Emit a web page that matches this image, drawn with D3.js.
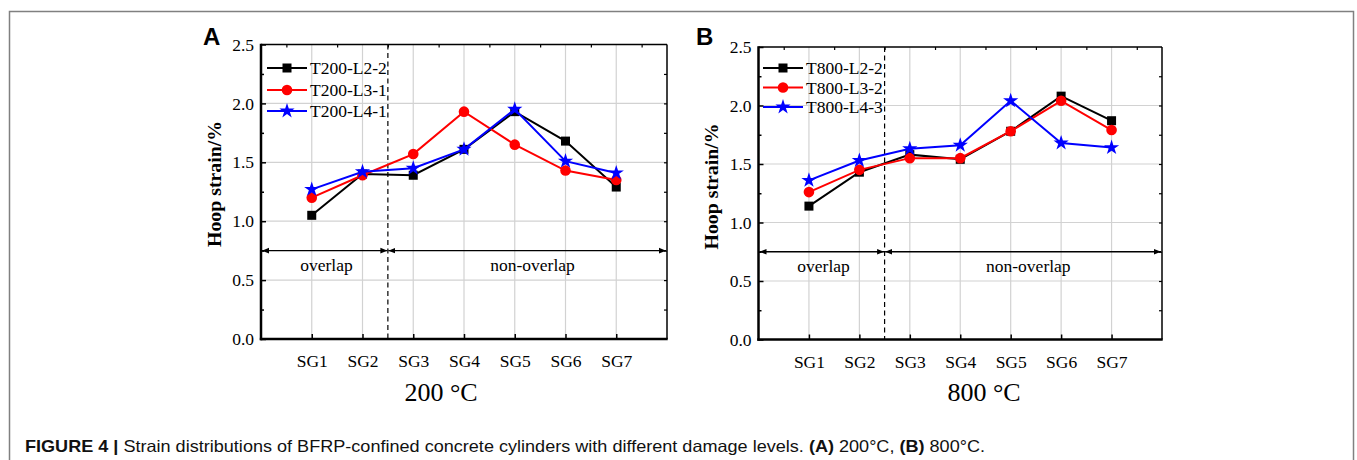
<!DOCTYPE html>
<html><head><meta charset="utf-8">
<script src="https://cdn.jsdelivr.net/npm/d3@7"></script>
<style>
html,body{margin:0;padding:0;background:#fff;}
svg{display:block;}
</style></head>
<body>
<svg id="c" width="1357" height="460"></svg>
<script>
// ---- data ----
const categories = ["SG1","SG2","SG3","SG4","SG5","SG6","SG7"];
const yTickValues = [0, 0.5, 1.0, 1.5, 2.0, 2.5];
const seriesNamesA = ["T200-L2-2","T200-L3-1","T200-L4-1"];
const seriesNamesB = ["T800-L2-2","T800-L3-2","T800-L4-3"];
const A_L2 = [1.05, 1.40, 1.39, 1.61, 1.93, 1.68, 1.29];
const A_L3 = [1.20, 1.39, 1.57, 1.93, 1.65, 1.43, 1.35];
const A_L4 = [1.27, 1.42, 1.45, 1.61, 1.95, 1.51, 1.41];
const B_L2 = [1.14, 1.43, 1.58, 1.54, 1.78, 2.08, 1.87];
const B_L3 = [1.26, 1.45, 1.55, 1.55, 1.78, 2.04, 1.79];
const B_L4 = [1.36, 1.53, 1.63, 1.66, 2.04, 1.68, 1.64];
const regionLabels = ["overlap","non-overlap"];
const boundaryPos = 2.5;   // between SG2 and SG3
const arrowLevel = 0.75;
const seriesColors = ["#000000","#ff0000","#0000ff"];
const seriesShapes = ["square","circle","star"];

const svg = d3.select("#c");
const SERIF = "'Liberation Serif','Times New Roman',serif";
const SANS = "'Liberation Sans',Arial,sans-serif";

// figure frame
svg.append("rect").attr("x",9.5).attr("y",11.5).attr("width",1344).attr("height",470)
  .attr("fill","none").attr("stroke","#808080").attr("stroke-width",1.5);

const defs = svg.append("defs");
function marker(id, orient){
  defs.append("marker").attr("id",id).attr("viewBox","0 0 10 10").attr("refX",10).attr("refY",5)
    .attr("markerWidth",7).attr("markerHeight",7).attr("markerUnits","userSpaceOnUse").attr("orient",orient)
    .append("path").attr("d","M0,1 L10,5 L0,9 Z").attr("fill","#000");
}
marker("arrEnd","auto");
marker("arrStart","auto-start-reverse");

const starPath = d3.symbol().type(d3.symbolStar).size(72);
function drawMarker(g, shape, color, cx, cy){
  if(shape==="square"){
    g.append("rect").attr("x",cx-4.5).attr("y",cy-4.5).attr("width",9).attr("height",9).attr("fill",color);
  } else if(shape==="circle"){
    g.append("circle").attr("cx",cx).attr("cy",cy).attr("r",5.3).attr("fill",color);
  } else {
    g.append("path").attr("d",starPath()).attr("transform",`translate(${cx},${cy})`).attr("fill",color);
  }
}

function drawPanel(cfg){
  const x = d3.scaleLinear().domain([0,8]).range([cfg.left,cfg.right]);
  const y = d3.scaleLinear().domain([0,2.5]).range([cfg.bottom,cfg.top]);
  const g = svg.append("g");

  // grid
  g.append("g").selectAll("line").data(yTickValues.slice(1,-1)).join("line")
    .attr("x1",cfg.left).attr("x2",cfg.right).attr("y1",d=>y(d)).attr("y2",d=>y(d))
    .attr("stroke","#d2d2d2").attr("stroke-width",1.2);
  g.append("g").selectAll("line").data(d3.range(1,8)).join("line")
    .attr("x1",d=>x(d)).attr("x2",d=>x(d)).attr("y1",cfg.top).attr("y2",cfg.bottom)
    .attr("stroke","#d2d2d2").attr("stroke-width",1.2);

  // dashed boundary
  g.append("line").attr("x1",x(boundaryPos)).attr("x2",x(boundaryPos)).attr("y1",cfg.top).attr("y2",cfg.bottom)
    .attr("stroke","#000").attr("stroke-width",1.2).attr("stroke-dasharray","5,3.5");

  // arrows
  g.append("line").attr("x1",x(0)+1).attr("x2",x(boundaryPos)-0.5).attr("y1",y(arrowLevel)).attr("y2",y(arrowLevel))
    .attr("stroke","#000").attr("stroke-width",1.3).attr("marker-start","url(#arrStart)").attr("marker-end","url(#arrEnd)");
  g.append("line").attr("x1",x(boundaryPos)+0.5).attr("x2",x(8)-1).attr("y1",y(arrowLevel)).attr("y2",y(arrowLevel))
    .attr("stroke","#000").attr("stroke-width",1.3).attr("marker-start","url(#arrStart)").attr("marker-end","url(#arrEnd)");
  g.append("text").attr("x",x(1.25)+2).attr("y",y(0.63)+6).attr("text-anchor","middle")
    .attr("font-family",SERIF).attr("font-size",17.5).text(regionLabels[0]);
  g.append("text").attr("x",x(5.35)).attr("y",y(0.63)+6).attr("text-anchor","middle")
    .attr("font-family",SERIF).attr("font-size",17.5).text(regionLabels[1]);

  // series
  const line = d3.line().x((d,i)=>x(i+1)).y(d=>y(d));
  cfg.series.forEach((s,si)=>{
    g.append("path").attr("d",line(s)).attr("fill","none").attr("stroke",seriesColors[si]).attr("stroke-width",2);
    const mg = g.append("g");
    s.forEach((v,i)=>drawMarker(mg, seriesShapes[si], seriesColors[si], x(i+1), y(v)));
  });

  // axes
  const fmt = d3.format(".1f");
  const ax = g.append("g").attr("transform",`translate(${cfg.left},0)`)
    .call(d3.axisLeft(y).tickValues(yTickValues).tickSize(-5).tickPadding(7).tickFormat(fmt));
  ax.select(".domain").remove();
  ax.selectAll("line").attr("stroke","#000").attr("stroke-width",1.5);
  ax.selectAll("text").attr("font-family",SERIF).attr("font-size",17.5).attr("fill","#000");
  const axm = g.append("g").attr("transform",`translate(${cfg.left},0)`)
    .call(d3.axisLeft(y).tickValues([0.25,0.75,1.25,1.75,2.25]).tickSize(-3).tickFormat(""));
  axm.select(".domain").remove();
  axm.selectAll("line").attr("stroke","#000").attr("stroke-width",1.5);

  const axr = g.append("g").attr("transform",`translate(${cfg.right},0)`)
    .call(d3.axisRight(y).tickValues([0.25,0.5,0.75,1,1.25,1.5,1.75,2,2.25]).tickSize(-3).tickFormat(""));
  axr.select(".domain").remove();
  axr.selectAll("line").attr("stroke","#000").attr("stroke-width",1.2);

  const bx = g.append("g").attr("transform",`translate(0,${cfg.bottom})`)
    .call(d3.axisBottom(x).tickValues(d3.range(1,8)).tickSize(-5).tickPadding(16).tickFormat(d=>categories[d-1]));
  bx.select(".domain").remove();
  bx.selectAll("line").attr("stroke","#000").attr("stroke-width",1.5);
  bx.selectAll("text").attr("font-family",SERIF).attr("font-size",17.5).attr("fill","#000");

  const tx = g.append("g").attr("transform",`translate(0,${cfg.top})`)
    .call(d3.axisTop(x).tickValues([0.5,1.5,2.5,3.5,4.5,5.5,6.5,7.5]).tickSize(-3).tickFormat(""));
  tx.select(".domain").remove();
  tx.selectAll("line").attr("stroke","#000").attr("stroke-width",1.2);

  // frame
  g.append("line").attr("x1",cfg.left).attr("x2",cfg.right).attr("y1",cfg.top).attr("y2",cfg.top).attr("stroke","#000").attr("stroke-width",1.5);
  g.append("line").attr("x1",cfg.right).attr("x2",cfg.right).attr("y1",cfg.top).attr("y2",cfg.bottom).attr("stroke","#000").attr("stroke-width",1.5);
  g.append("line").attr("x1",cfg.left).attr("x2",cfg.left).attr("y1",cfg.top-0.7).attr("y2",cfg.bottom+1.2).attr("stroke","#000").attr("stroke-width",2.5);
  g.append("line").attr("x1",cfg.left-1.2).attr("x2",cfg.right+0.7).attr("y1",cfg.bottom).attr("y2",cfg.bottom).attr("stroke","#000").attr("stroke-width",2.5);

  // y label
  g.append("text").attr("transform",`translate(${cfg.ylabX},${cfg.ylabY}) rotate(-90)`)
    .attr("text-anchor","middle").attr("font-family",SERIF).attr("font-weight","bold").attr("font-size",19)
    .attr("textLength",126).attr("lengthAdjust","spacingAndGlyphs")
    .text("Hoop strain/%");

  // x title
  g.append("text").attr("x",cfg.titleX).attr("y",401).attr("text-anchor","middle")
    .attr("font-family",SERIF).attr("font-size",26).text(cfg.title);

  // panel letter
  g.append("text").attr("x",cfg.letterX).attr("y",45).attr("font-family",SANS).attr("font-weight","bold")
    .attr("font-size",24).text(cfg.letter);

  // legend
  cfg.names.forEach((n,i)=>{
    const ly = cfg.legY[i];
    g.append("line").attr("x1",cfg.legX).attr("x2",cfg.legX+40).attr("y1",ly).attr("y2",ly)
      .attr("stroke",seriesColors[i]).attr("stroke-width",2);
    drawMarker(g, seriesShapes[i], seriesColors[i], cfg.legX+20, ly);
    g.append("text").attr("x",cfg.legX+43).attr("y",ly+6).attr("font-family",SERIF).attr("font-size",17.5).text(n);
  });
}

drawPanel({left:261, right:667, top:44.5, bottom:339, series:[A_L2,A_L3,A_L4], names:seriesNamesA,
  legX:267, legY:[68,90,111], ylabX:221, ylabY:184, title:"200 °C", titleX:441, letter:"A", letterX:203});
drawPanel({left:758.5, right:1162, top:47, bottom:339.5, series:[B_L2,B_L3,B_L4], names:seriesNamesB,
  legX:763, legY:[68,87.5,107], ylabX:718, ylabY:186.5, title:"800 °C", titleX:984, letter:"B", letterX:696});

// caption
const cap = svg.append("text").attr("x",25).attr("y",451.5).attr("font-family",SANS).attr("font-size",16.5).attr("fill","#111");
cap.append("tspan").attr("font-weight","bold").text("FIGURE 4 | ");
cap.append("tspan").text("Strain distributions of BFRP-confined concrete cylinders with different damage levels. ");
cap.append("tspan").attr("font-weight","bold").text("(A)");
cap.append("tspan").text(" 200°C, ");
cap.append("tspan").attr("font-weight","bold").text("(B)");
cap.append("tspan").text(" 800°C.");
cap.attr("textLength",960).attr("lengthAdjust","spacingAndGlyphs");
</script>
</body></html>
